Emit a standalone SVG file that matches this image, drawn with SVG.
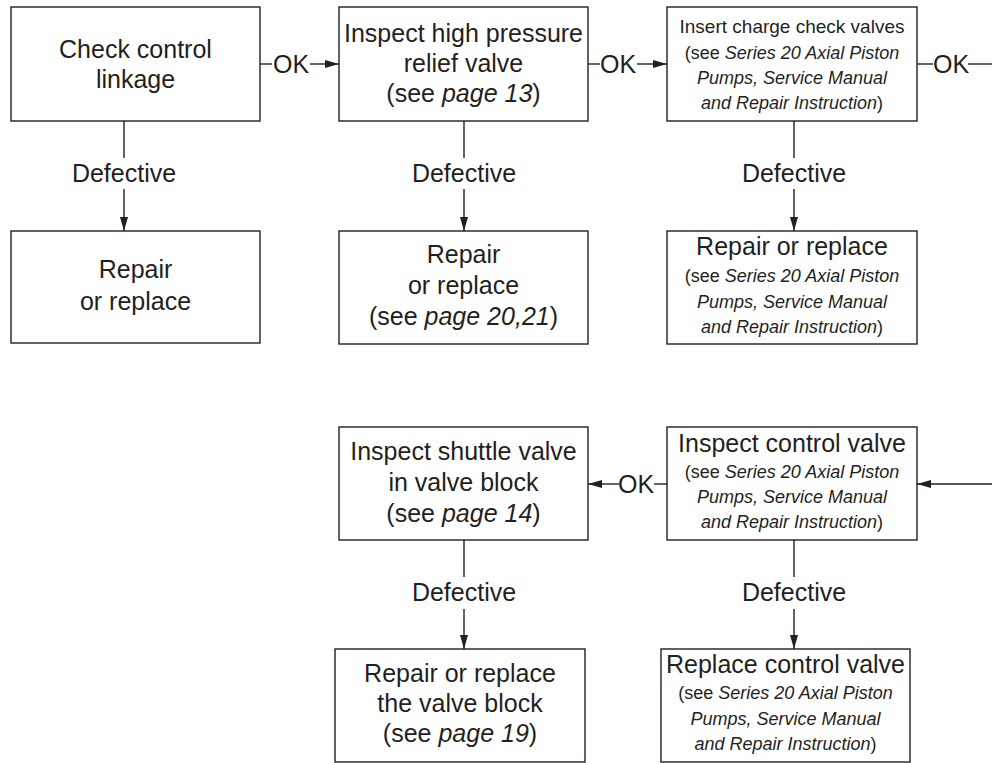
<svg xmlns="http://www.w3.org/2000/svg" width="992" height="763" viewBox="0 0 992 763">
<style>
.box{fill:#fff;stroke:#231f20;stroke-width:1.4}
.ln{fill:none;stroke:#231f20;stroke-width:1.4}
text{font-family:"Liberation Sans",Arial,sans-serif;fill:#231f20;text-anchor:middle}
.b{font-size:25px}
.s{font-size:18px}
.m{font-size:19px}
.i{font-style:italic}
</style>
<defs>
<marker id="ah" markerUnits="userSpaceOnUse" markerWidth="15" markerHeight="9" refX="14" refY="4" orient="auto">
<path d="M0,0 L14,4 L0,8 z" fill="#231f20"/>
</marker>
</defs>
<rect width="992" height="763" fill="#fff"/>
<g id="connectors">
<line class="ln" x1="260" y1="64" x2="272" y2="64"/>
<text class="b" x="291" y="73">OK</text>
<line class="ln" x1="310" y1="64" x2="339" y2="64" marker-end="url(#ah)"/>
<line class="ln" x1="588" y1="64" x2="600" y2="64"/>
<text class="b" x="618" y="73">OK</text>
<line class="ln" x1="637" y1="64" x2="667" y2="64" marker-end="url(#ah)"/>
<line class="ln" x1="917" y1="64" x2="933" y2="64"/>
<text class="b" x="951" y="73">OK</text>
<line class="ln" x1="968" y1="64" x2="992" y2="64"/>
<line class="ln" x1="992" y1="484" x2="917" y2="484" marker-end="url(#ah)"/>
<line class="ln" x1="667" y1="484" x2="654" y2="484"/>
<text class="b" x="636" y="493">OK</text>
<line class="ln" x1="619" y1="484" x2="588" y2="484" marker-end="url(#ah)"/>
<line class="ln" x1="124" y1="121" x2="124" y2="158"/>
<text class="b" x="124" y="182">Defective</text>
<line class="ln" x1="124" y1="189" x2="124" y2="231" marker-end="url(#ah)"/>
<line class="ln" x1="464" y1="121" x2="464" y2="158"/>
<text class="b" x="464" y="182">Defective</text>
<line class="ln" x1="464" y1="189" x2="464" y2="231" marker-end="url(#ah)"/>
<line class="ln" x1="794" y1="121" x2="794" y2="158"/>
<text class="b" x="794" y="182">Defective</text>
<line class="ln" x1="794" y1="189" x2="794" y2="231" marker-end="url(#ah)"/>
<line class="ln" x1="464" y1="540" x2="464" y2="577"/>
<text class="b" x="464" y="601">Defective</text>
<line class="ln" x1="464" y1="609" x2="464" y2="649" marker-end="url(#ah)"/>
<line class="ln" x1="794" y1="540" x2="794" y2="577"/>
<text class="b" x="794" y="601">Defective</text>
<line class="ln" x1="794" y1="609" x2="794" y2="649" marker-end="url(#ah)"/>
</g>
<g id="n1">
<rect class="box" x="11" y="7" width="249" height="114"/>
<text class="b" x="135.5" y="58">Check control</text>
<text class="b" x="135.5" y="88">linkage</text>
</g>
<g id="n2">
<rect class="box" x="339" y="7" width="249" height="114"/>
<text class="b" x="463.5" y="42">Inspect high pressure</text>
<text class="b" x="463.5" y="72">relief valve</text>
<text class="b" x="463.5" y="102">(see <tspan class="i">page 13</tspan>)</text>
</g>
<g id="n3">
<rect class="box" x="667" y="7" width="250" height="114"/>
<text class="m" x="792" y="33">Insert charge check valves</text>
<text class="s" x="792" y="59">(see <tspan class="i">Series 20 Axial Piston</tspan></text>
<text class="s i" x="792" y="84">Pumps, Service Manual</text>
<text class="s" x="792" y="109"><tspan class="i">and Repair Instruction</tspan>)</text>
</g>
<g id="n4">
<rect class="box" x="11" y="231" width="249" height="112"/>
<text class="b" x="135.5" y="278">Repair</text>
<text class="b" x="135.5" y="310">or replace</text>
</g>
<g id="n5">
<rect class="box" x="339" y="231" width="249" height="113"/>
<text class="b" x="463.5" y="263">Repair</text>
<text class="b" x="463.5" y="294">or replace</text>
<text class="b" x="463.5" y="325">(see <tspan class="i">page 20,21</tspan>)</text>
</g>
<g id="n6">
<rect class="box" x="667" y="231" width="250" height="113"/>
<text class="b" x="792" y="255">Repair or replace</text>
<text class="s" x="792" y="282">(see <tspan class="i">Series 20 Axial Piston</tspan></text>
<text class="s i" x="792" y="308">Pumps, Service Manual</text>
<text class="s" x="792" y="333"><tspan class="i">and Repair Instruction</tspan>)</text>
</g>
<g id="n7">
<rect class="box" x="339" y="427" width="249" height="113"/>
<text class="b" x="463.5" y="460">Inspect shuttle valve</text>
<text class="b" x="463.5" y="491">in valve block</text>
<text class="b" x="463.5" y="522">(see <tspan class="i">page 14</tspan>)</text>
</g>
<g id="n8">
<rect class="box" x="667" y="427" width="250" height="113"/>
<text class="b" x="792" y="452">Inspect control valve</text>
<text class="s" x="792" y="478">(see <tspan class="i">Series 20 Axial Piston</tspan></text>
<text class="s i" x="792" y="503">Pumps, Service Manual</text>
<text class="s" x="792" y="528"><tspan class="i">and Repair Instruction</tspan>)</text>
</g>
<g id="n9">
<rect class="box" x="335" y="649" width="250" height="113"/>
<text class="b" x="460" y="682">Repair or replace</text>
<text class="b" x="460" y="712">the valve block</text>
<text class="b" x="460" y="742">(see <tspan class="i">page 19</tspan>)</text>
</g>
<g id="n10">
<rect class="box" x="661" y="649" width="249" height="113"/>
<text class="b" x="785.5" y="673">Replace control valve</text>
<text class="s" x="785.5" y="699">(see <tspan class="i">Series 20 Axial Piston</tspan></text>
<text class="s i" x="785.5" y="725">Pumps, Service Manual</text>
<text class="s" x="785.5" y="750"><tspan class="i">and Repair Instruction</tspan>)</text>
</g>
</svg>
